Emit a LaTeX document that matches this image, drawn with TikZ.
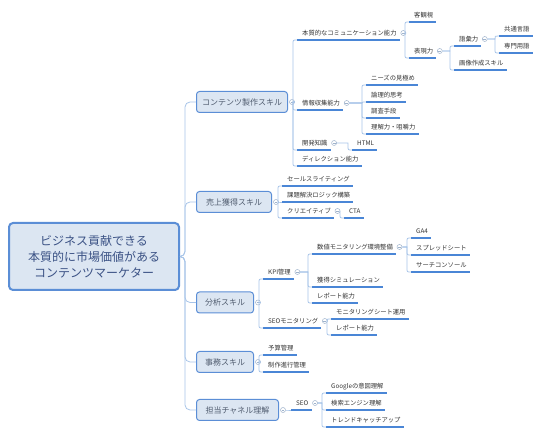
\documentclass[tikz,border=0pt]{standalone}
\usepackage{fontspec}
\setmainfont{Noto Sans CJK JP}
\usetikzlibrary{calc}

\definecolor{linec}{HTML}{A7C4E8}
\definecolor{ulc}{HTML}{4A86D6}
\definecolor{boxc}{HTML}{5B8ED6}
\definecolor{fillc}{HTML}{DCE6F2}
\definecolor{foldc}{HTML}{9FB3CC}
\definecolor{roottext}{HTML}{3B5285}
\definecolor{skilltext}{HTML}{4F5B6E}
\definecolor{leaftext}{HTML}{333333}

\tikzset{
  conn/.style={draw=linec, line width=0.8pt},
  uline/.style={draw=ulc, line width=1.5pt},
  topic/.style={anchor=south west, inner xsep=0pt, inner ysep=3.5pt,
    text height=5pt, text depth=1.2pt, text=leaftext,
    font=\fontsize{6.3}{7}\selectfont,
    execute at begin node={\hspace*{9pt}}, execute at end node={\hspace*{3pt}},
    append after command={([xshift=4pt]\tikzlastnode.south west) edge[uline] (\tikzlastnode.south east)}},
  skill/.style={anchor=west, draw=boxc, fill=fillc, line width=1pt, rounded corners=3pt,
    minimum height=21pt, inner xsep=0pt, text=skilltext, font=\fontsize{8}{10}\selectfont},
  rootbox/.style={draw=boxc, fill=fillc, line width=2pt, rounded corners=4pt,
    minimum width=170pt, minimum height=67pt, align=center, text=roottext,
    font=\fontsize{12}{16}\selectfont},
  fold/.style={circle, draw=foldc, fill=white, line width=0.5pt, inner sep=0pt, minimum size=5pt,
    path picture={\draw[foldc, line width=0.5pt] ([xshift=-1.4pt]path picture bounding box.center)
      -- ([xshift=1.4pt]path picture bounding box.center);}}
}

% parent fold icon -> list of children
\newcommand{\mapfork}[2]{%
  \foreach \c in {#2}{
    \draw[conn] let \p1=(#1.east), \p2=(\c.south west),
      \n1={min(4,abs(\y2-\y1))}, \n2={ifthenelse(\y2<\y1,-1,1)} in
      (\p1) -- (\x2,\y1) -- (\x2,{\y2-\n2*\n1*1pt}) .. controls (\x2,\y2) .. ({\x2+\n1*1pt},\y2)
      -- ({\x2+4pt},\y2);
  }}

\begin{document}
\begin{tikzpicture}[x=1pt,y=-1pt]
\useasboundingbox (0,0) rectangle (549,435);

\node[rootbox] (root) at (94,256.5) {ビジネス貢献できる\\本質的に市場価値がある\\コンテンツマーケター};
\coordinate (trunk) at (185,0);

\foreach \n/\y/\w/\t in {kon/102/91/コンテンツ製作スキル, uri/202/75/売上獲得スキル,
    bun/302.5/57/分析スキル, jim/362/57/事務スキル, tan/410/82/担当チャネル理解}
  \node[skill, minimum width=\w] (\n) at (196,\y) {\t};

\foreach \n/\x/\y/\t in {
    hon/293/40/本質的なコミュニケーション能力, jok/293/110/情報収集能力,
    kai/293/150/開発知識, dir/293/166/ディレクション能力,
    kak/405/22/客観視, hyo/405/58/表現力,
    goi/450/46/語彙力, gaz/450/70/画像作成スキル,
    kyo/495/36/共通言語, sen/495/53/専門用語,
    niz/362/85/ニーズの見極め, ron/362/102/論理的思考,
    cho/362/118/調査手段, rik/362/134/理解力・咀嚼力,
    htm/348/150/HTML,
    sal/278/186/セールスライティング, kad/278/202/課題解決ロジック構築,
    cre/278/218/クリエイティブ, cta/340/218/CTA,
    kpi/259/279/KPI管理, seom/259/328/SEOモニタリング,
    suc/308/254/数値モニタリング環境整備, kak2/308/287/獲得シミュレーション,
    rep/308/303/レポート能力,
    ga/407/238/GA4, spr/407/255/スプレッドシート, sea/407/272/サーチコンソール,
    mon/327/319/モニタリングシート運用, rep2/327/335/レポート能力,
    yos/259/355/予算管理, sei/259/372/制作進行管理,
    seo/287/410/SEO,
    goo/322/393/Googleの意図理解, ken/322/410/検索エンジン理解,
    tre/322/427/トレンドキャッチアップ}
  \node[topic] (\n) at (\x,\y) {\t};

% fold icons
\foreach \n in {kon,uri,bun,jim,tan}
  \node[fold] (ic-\n) at ([xshift=4pt]\n.east) {};
\foreach \n in {hon,hyo,goi,jok,kai,cre,kpi,suc,seom,seo}
  \node[fold] (ic-\n) at ([shift={(3.5,-7)}]\n.south east) {};

% trunk
\foreach \n in {kon,uri,bun,jim,tan}
  \draw[conn, rounded corners=5pt] (root.east) -- (trunk |- root.east) |- (\n.west);

\mapfork{ic-kon}{hon,jok,kai,dir}
\mapfork{ic-hon}{kak,hyo}
\mapfork{ic-hyo}{goi,gaz}
\mapfork{ic-goi}{kyo,sen}
\mapfork{ic-jok}{niz,ron,cho,rik}
\mapfork{ic-kai}{htm}
\mapfork{ic-uri}{sal,kad,cre}
\mapfork{ic-cre}{cta}
\mapfork{ic-bun}{kpi,seom}
\mapfork{ic-kpi}{suc,kak2,rep}
\mapfork{ic-suc}{ga,spr,sea}
\mapfork{ic-seom}{mon,rep2}
\mapfork{ic-jim}{yos,sei}
\mapfork{ic-tan}{seo}
\mapfork{ic-seo}{goo,ken,tre}
\end{tikzpicture}
\end{document}
